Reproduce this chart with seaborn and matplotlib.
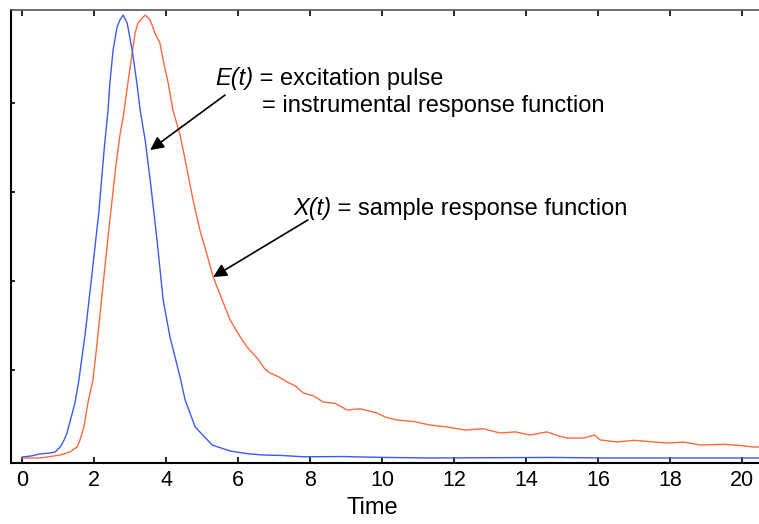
import numpy as np
import pandas as pd
import matplotlib
matplotlib.use("Agg")
import matplotlib.pyplot as plt
import seaborn as sns

# E(t): excitation pulse / instrumental response (blue)
t_exc = [0.00, 0.25, 0.50, 0.78, 0.92, 1.06, 1.17, 1.25, 1.33, 1.39, 1.47, 1.58,
         1.75, 1.94, 2.14, 2.28, 2.39, 2.44, 2.53, 2.64, 2.72, 2.81, 2.92, 3.06,
         3.19, 3.28, 3.42, 3.56, 3.75, 3.92, 4.11, 4.39, 4.53, 4.81, 5.28, 5.78,
         6.25, 6.69, 7.20, 7.81, 8.90, 10.1, 11.33, 14.7, 16.2, 20.47]
e_counts = [45, 68, 113, 135, 158, 270, 428, 585, 833, 1013, 1260, 1778,
            2790, 4140, 5603, 6953, 7853, 8460, 9203, 9720, 9878, 9990, 9810, 9203,
            8460, 7853, 7178, 6278, 4928, 3578, 2745, 1845, 1328, 720, 315, 180,
            120, 90, 80, 50, 55, 35, 23, 35, 23, 23]

# X(t): sample response (orange)
t_smp = [0.00, 0.50, 0.69, 1.06, 1.33, 1.53, 1.61, 1.72, 1.83, 1.97, 2.08, 2.25,
         2.44, 2.61, 2.72, 2.81, 2.94, 3.06, 3.14, 3.22, 3.42, 3.56, 3.69, 3.83,
         3.92, 4.06, 4.19, 4.39, 4.56, 4.75, 4.94, 5.14, 5.31, 5.56, 5.78, 6.06,
         6.25, 6.53, 6.75, 6.89, 7.10, 7.36, 7.60, 7.81, 8.10, 8.36, 8.70, 9.03,
         9.40, 9.86, 10.1, 10.42, 10.9, 11.33, 11.8, 12.31, 12.8, 13.28, 13.7,
         14.11, 14.58, 14.9, 15.14, 15.6, 15.9, 16.06, 16.53, 17.0, 17.92, 18.4,
         18.83, 19.5, 20.0, 20.31, 20.47]
x_counts = [23, 23, 45, 90, 158, 270, 428, 720, 1260, 1778, 2565, 3915,
            5378, 6615, 7290, 7695, 8460, 9135, 9585, 9810, 9990, 9878, 9585, 9360,
            8978, 8460, 7853, 7290, 6615, 5828, 5153, 4590, 4095, 3578, 3128, 2745,
            2520, 2273, 2020, 1935, 1860, 1733, 1640, 1485, 1420, 1283, 1250, 1103,
            1130, 1035, 940, 878, 840, 765, 720, 653, 680, 585, 610,
            540, 610, 520, 473, 470, 540, 428, 383, 420, 360, 380,
            315, 330, 300, 270, 270]

x_ticks = list(range(0, 21, 2))
y_ticks = [2000, 4000, 6000, 8000]

sns.set_theme(style="white")
plt.rcParams["font.family"] = ["Liberation Sans", "DejaVu Sans"]
plt.rcParams["text.color"] = "black"
plt.rcParams["axes.labelcolor"] = "black"

df_e = pd.DataFrame({"Time": t_exc, "counts": e_counts})
df_x = pd.DataFrame({"Time": t_smp, "counts": x_counts})

fig = plt.figure(figsize=(7.59, 5.24), dpi=100)
ax = fig.add_axes([11 / 759, 61 / 524, 748 / 759, 453 / 524])

sns.lineplot(data=df_x, x="Time", y="counts", color="#ff6a3d", lw=1.0, ax=ax)
sns.lineplot(data=df_e, x="Time", y="counts", color="#3a5af5", lw=1.0, ax=ax)

ax.set_xlim(-0.306, 20.47)
ax.set_ylim(-90, 10103)
ax.set_xticks(x_ticks)
ax.set_yticks(y_ticks)
ax.set_yticklabels([])
ax.set_ylabel("")
ax.tick_params(axis="x", direction="in", length=4, width=1.2, top=True, bottom=True,
               labelsize=15.5, pad=5, colors="black")
ax.tick_params(axis="y", direction="in", length=3, width=1.2, left=True,
               colors="black")

for side in ["left", "bottom"]:
    ax.spines[side].set_linewidth(1.5)
    ax.spines[side].set_color("black")
ax.spines["top"].set_linewidth(1.2)
ax.spines["top"].set_color("#555555")
ax.spines["right"].set_visible(False)

ax.set_xlabel("Time", fontsize=17)
ax.xaxis.set_label_coords(0.4826, -0.075)


def label(x, y, italic, rest, size=17):
    t1 = ax.text(x, y, italic, fontsize=size, style="italic",
                 ha="left", va="baseline")
    ax.annotate(rest, xy=(1, y), xycoords=(t1, "data"), fontsize=size,
                ha="left", va="baseline")


label(5.36, 8415, "E(t)", " = excitation pulse")
ax.text(6.67, 7808, "= instrumental response function", fontsize=17,
        ha="left", va="baseline")
label(7.53, 5490, "X(t)", " = sample response function")

arrow = dict(arrowstyle="-|>", color="black", lw=1.2, mutation_scale=20,
             shrinkA=0, shrinkB=0)
ax.annotate("", xy=(3.56, 6953), xytext=(5.64, 8190), arrowprops=arrow)
ax.annotate("", xy=(5.31, 4095), xytext=(7.94, 5378), arrowprops=arrow)

plt.savefig("out.png", dpi=100)
